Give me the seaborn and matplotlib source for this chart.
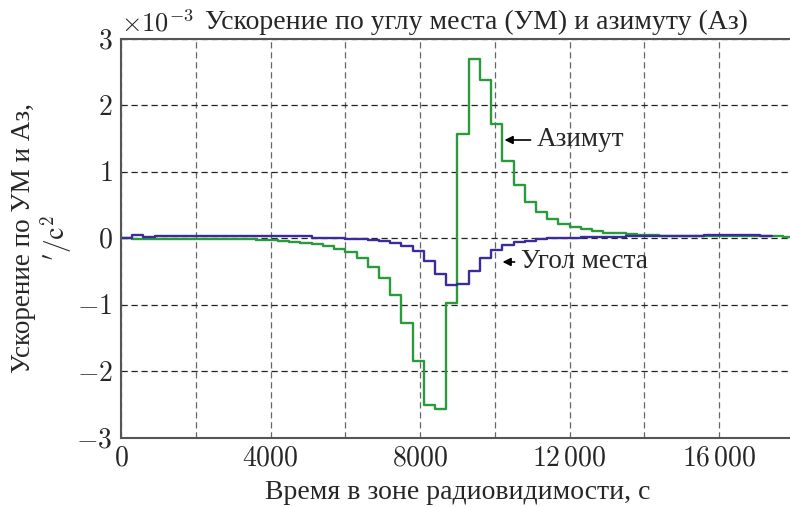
import numpy as np
import pandas as pd
import matplotlib
matplotlib.use("Agg")
import matplotlib.pyplot as plt
import seaborn as sns
from matplotlib.ticker import FixedLocator, FixedFormatter

# ---- data (values in units of 1e-3 '/s^2), each step lasts 300 s ----
step_start = [0, 300, 600, 900, 1200, 1500, 1800, 2100, 2400, 2700,
              3000, 3300, 3600, 3900, 4200, 4500, 4800, 5100, 5400, 5700,
              6000, 6300, 6600, 6900, 7200, 7500, 7800, 8100, 8400, 8700,
              9000, 9300, 9600, 9900, 10200, 10500, 10800, 11100, 11400, 11700,
              12000, 12300, 12600, 12900, 13200, 13500, 13800, 14100, 14400, 14700,
              15000, 15300, 15600, 15900, 16200, 16500, 16800, 17100, 17400, 17700,
              18000]

azimuth = [0.0, -0.005, -0.008, -0.008, -0.010, -0.010, -0.010, -0.010, -0.010, -0.012,
           -0.012, -0.015, -0.020, -0.028, -0.035, -0.050, -0.065, -0.090, -0.120, -0.155,
           -0.20, -0.30, -0.43, -0.60, -0.85, -1.27, -1.85, -2.50, -2.57, -0.97,
           1.56, 2.69, 2.38, 1.71, 1.16, 0.80, 0.55, 0.40, 0.29, 0.215,
           0.175, 0.135, 0.11, 0.085, 0.075, 0.065, 0.05, 0.045, 0.04, 0.04,
           0.04, 0.04, 0.04, 0.04, 0.04, 0.04, 0.04, 0.04, 0.04, 0.015,
           0.015]

elevation = [0.0, 0.05, 0.02, 0.04, 0.04, 0.04, 0.04, 0.04, 0.04, 0.04,
             0.04, 0.04, 0.035, 0.035, 0.035, 0.035, 0.035, 0.01, 0.005, 0.0,
             -0.005, -0.015, -0.025, -0.045, -0.075, -0.12, -0.195, -0.34, -0.54, -0.70,
             -0.685, -0.485, -0.30, -0.175, -0.10, -0.06, -0.035, -0.015, 0.0, 0.005,
             0.01, 0.015, 0.02, 0.02, 0.025, 0.03, 0.03, 0.035, 0.035, 0.04,
             0.04, 0.04, 0.045, 0.045, 0.045, 0.047, 0.047, 0.03, 0.03, None,
             None]

x_ticks = [0, 4000, 8000, 12000, 16000]
x_tick_labels = [r"$0$", r"$4000$", r"$8000$", r"$12\,000$", r"$16\,000$"]
y_ticks = [-3, -2, -1, 0, 1, 2, 3]
y_tick_labels = [r"$-3$", r"$-2$", r"$-1$", r"$0$", r"$1$", r"$2$", r"$3$"]

scale = 1e-3
df_az = pd.DataFrame({"t": step_start, "v": [v * scale for v in azimuth]})
df_el = pd.DataFrame({"t": step_start,
                      "v": [np.nan if v is None else v * scale for v in elevation]}).dropna()

sns.set_theme(style="white")
plt.rcParams["font.family"] = ["Liberation Serif", "DejaVu Serif"]
plt.rcParams["mathtext.fontset"] = "cm"

fig = plt.figure(figsize=(7.9, 5.07), dpi=100)
ax = fig.add_axes([0.1532, 0.1361, 1.005 - 0.1532, 0.924 - 0.1361])

green = "#2a9a3c"
blue = "#3a2d9a"
sns.lineplot(data=df_az, x="t", y="v", ax=ax, color=green, lw=1.7,
             drawstyle="steps-post", estimator=None, sort=False)
sns.lineplot(data=df_el, x="t", y="v", ax=ax, color=blue, lw=1.7,
             drawstyle="steps-post", estimator=None, sort=False)

ax.set_xlim(0, 18000)
ax.set_ylim(-3 * scale, 3 * scale)

ax.xaxis.set_major_locator(FixedLocator(x_ticks))
ax.xaxis.set_major_formatter(FixedFormatter(x_tick_labels))
ax.yaxis.set_major_locator(FixedLocator([v * scale for v in y_ticks]))
ax.yaxis.set_major_formatter(FixedFormatter(y_tick_labels))
ax.tick_params(axis="both", direction="in", length=5, width=1.0, color="#555555",
               labelsize=20, pad=6, top=False, right=False)
ax.set_axisbelow(True)
ax.yaxis.grid(True, color="#222222", ls=(0, (5, 3)), lw=0.9)
ax.xaxis.grid(True, color="#666666", ls=(0, (5, 3)), lw=0.9)
ax.xaxis.set_minor_locator(FixedLocator([2000, 6000, 10000, 14000]))
ax.xaxis.grid(True, which="minor", color="#666666", ls=(0, (5, 3)), lw=0.9)
ax.tick_params(axis="x", which="minor", length=0)

for s in ax.spines.values():
    s.set_color("#555555")
    s.set_linewidth(1.5)

ax.set_xlabel("Время в зоне радиовидимости, с", fontsize=20, labelpad=6)
ax.set_ylabel("Ускорение по УМ и Аз,\n" + r"$'/\mathrm{с}^2$", fontsize=19.5,
              labelpad=1, linespacing=1.1)
ax.set_title("Ускорение по углу места (УМ) и азимуту (Аз)", fontsize=20, pad=7,
             x=0.528)
ax.text(0.0, 1.005, r"$\times10^{-3}$", transform=ax.transAxes, fontsize=19,
        ha="left", va="bottom")

ax.annotate("Азимут", xy=(10258, 1.476e-3), xytext=(11118, 1.476e-3),
            fontsize=19.5, va="center", ha="left",
            arrowprops=dict(arrowstyle="-|>", color="black", lw=1.2,
                            mutation_scale=12, shrinkA=2, shrinkB=0))
ax.annotate("Угол места", xy=(10205, -0.356e-3), xytext=(10690, -0.356e-3),
            fontsize=19.5, va="center", ha="left",
            arrowprops=dict(arrowstyle="-|>", color="black", lw=1.2,
                            mutation_scale=12, shrinkA=2, shrinkB=0))

fig.savefig("out.png", dpi=100)
